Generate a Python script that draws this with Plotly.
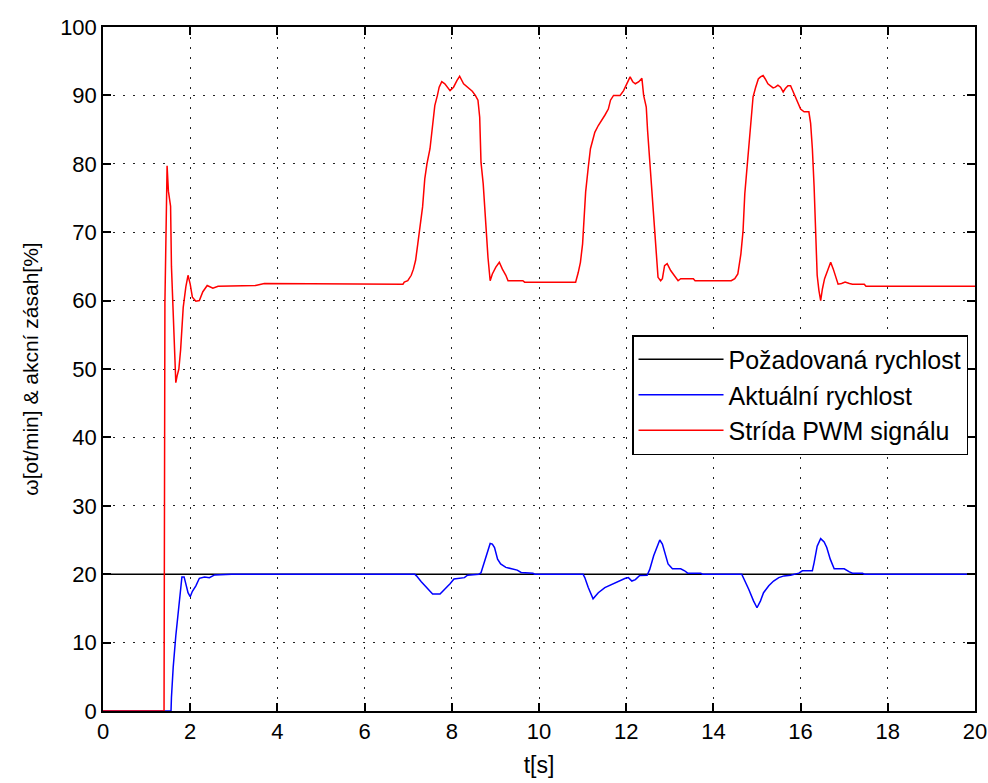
import plotly.graph_objects as go

# Reference speed
t_ref = [0, 20]
v_ref = [20, 20]

# Actual speed
t_act = [0, 1.56, 1.57, 1.61, 1.67, 1.72, 1.77, 1.81, 1.86, 1.90, 1.95, 2.00, 2.05, 2.13, 2.21, 2.33, 2.44, 2.56, 2.95,
         7.15, 7.19, 7.30, 7.42, 7.56, 7.73, 7.84, 7.96, 8.05, 8.16, 8.29, 8.36, 8.62, 8.67, 8.74, 8.81, 8.88, 8.93,
         8.98, 9.05, 9.12, 9.24, 9.40, 9.50, 9.59, 9.86, 9.90,
         11.01, 11.05, 11.13, 11.24, 11.36, 11.51, 11.67, 11.82, 11.98, 12.05, 12.13, 12.21, 12.31, 12.48, 12.54,
         12.63, 12.71, 12.77, 12.83, 12.88, 12.96, 13.06, 13.25, 13.34, 13.41, 13.71, 13.75,
         14.65, 14.69, 14.81, 14.92, 15.00, 15.08, 15.15, 15.27, 15.38, 15.50, 15.62, 15.77, 15.96, 16.04, 16.27,
         16.31, 16.38, 16.46, 16.54, 16.60, 16.68, 16.77, 17.00, 17.12, 17.19, 17.42, 17.46, 20.0]
v_act = [0, 0, 2.0, 6.4, 11.0, 14.0, 18.0, 19.6, 19.6, 18.6, 17.3, 16.7, 17.5, 18.3, 19.4, 19.6, 19.5, 19.9, 20.0,
         20.0, 19.76, 18.9, 18.0, 17.1, 17.1, 17.8, 18.6, 19.3, 19.4, 19.5, 19.85, 20.0, 20.2, 21.7, 22.9, 24.5, 24.4,
         23.9, 22.2, 21.5, 21.0, 20.8, 20.6, 20.25, 20.15, 20.0,
         20.0, 19.5, 18.05, 16.4, 17.3, 18.05, 18.5, 19.0, 19.4, 19.5, 19.0, 19.2, 19.8, 19.85, 20.7,
         22.7, 24.1, 25.0, 24.4, 23.2, 21.5, 20.8, 20.8, 20.5, 20.15, 20.15, 20.0,
         20.0, 19.5, 17.8, 16.1, 15.1, 16.1, 17.3, 18.3, 19.0, 19.5, 19.75, 19.85, 20.15, 20.5, 20.5,
         21.7, 24.1, 25.2, 24.7, 23.9, 22.2, 20.8, 20.8, 20.35, 20.15, 20.15, 20.0, 20.0]

# PWM duty cycle
t_pwm = [0, 1.40, 1.42, 1.47, 1.50, 1.55, 1.57, 1.63, 1.67, 1.70, 1.74, 1.78, 1.84, 1.90, 1.95, 2.00, 2.05, 2.13,
         2.21, 2.29, 2.39, 2.52, 2.64, 3.50, 3.70, 6.88,
         6.91, 6.99, 7.07, 7.12, 7.17, 7.22, 7.28, 7.33, 7.38, 7.43, 7.50, 7.56, 7.61, 7.67, 7.71, 7.77, 7.84, 7.96,
         8.04, 8.12, 8.18, 8.27, 8.39, 8.47, 8.54, 8.60, 8.64, 8.67, 8.72, 8.78, 8.83, 8.88, 8.93, 9.01, 9.09, 9.16,
         9.24, 9.29, 9.63, 9.67, 10.84,
         10.90, 10.95, 11.00, 11.03, 11.07, 11.13, 11.18, 11.23, 11.28, 11.36, 11.44, 11.51, 11.59, 11.64, 11.71,
         11.86, 11.94, 12.00, 12.09, 12.15, 12.21, 12.29, 12.36, 12.40, 12.46, 12.49, 12.54, 12.59, 12.65, 12.69,
         12.73, 12.79, 12.83, 12.88, 12.94, 13.02, 13.10, 13.19, 13.25, 13.54, 13.58, 14.41,
         14.49, 14.56, 14.63, 14.68, 14.72, 14.78, 14.83, 14.87, 14.91, 14.97, 15.03, 15.08, 15.14, 15.19, 15.25,
         15.31, 15.37, 15.42, 15.48, 15.54, 15.60, 15.65, 15.71, 15.77, 15.83, 15.88, 15.94, 16.00, 16.08, 16.19,
         16.23, 16.27, 16.31, 16.35, 16.38, 16.42, 16.46, 16.50, 16.55, 16.62, 16.69, 16.75, 16.81, 16.86, 16.94,
         17.02, 17.12, 17.19, 17.46, 17.50, 20.0]
v_pwm = [0, 0, 59.6, 79.7, 76.0, 73.8, 65.0, 54.0, 48.0, 49.0, 50.0, 52.8, 59.0, 62.0, 63.7, 62.4, 60.5, 59.9,
         60.0, 61.3, 62.2, 61.8, 62.1, 62.2, 62.5, 62.4,
         62.7, 62.9, 63.7, 64.6, 65.9, 68.3, 71.0, 73.7, 77.8, 80.0, 82.2, 86.1, 88.5, 90.0, 91.2, 92.0, 91.7, 90.7,
         91.2, 92.2, 92.8, 91.7, 91.0, 90.6, 90.0, 89.3, 86.8, 80.2, 77.1, 70.7, 66.3, 62.9, 63.9, 64.9, 65.6, 64.6,
         63.7, 62.9, 62.9, 62.7, 62.7,
         64.1, 65.6, 68.3, 72.2, 75.9, 79.5, 82.2, 83.4, 84.6, 85.6, 86.3, 87.1, 88.0, 89.3, 90.0,
         90.0, 90.7, 91.5, 92.7, 92.0, 91.7, 92.0, 92.5, 90.0, 88.3, 84.9, 80.5, 76.3, 71.2, 66.6,
         63.4, 62.9, 63.2, 65.1, 65.4, 64.4, 63.7, 62.9, 63.2, 63.2, 62.9, 62.9,
         63.2, 63.9, 66.8, 70.2, 75.6, 80.2, 83.7, 87.1, 89.8, 91.2, 92.4, 92.7, 92.9, 92.4, 91.7,
         91.4, 91.1, 91.2, 91.5, 91.2, 90.5, 91.0, 91.4, 91.4, 90.5, 89.8, 88.8, 88.0, 87.6, 87.6,
         85.9, 82.2, 76.6, 68.5, 63.7, 61.5, 60.0, 61.7, 63.2, 64.4, 65.6, 64.6, 63.2, 62.4, 62.5,
         62.7, 62.5, 62.4, 62.4, 62.1, 62.1]

x_ticks = [0, 2, 4, 6, 8, 10, 12, 14, 16, 18, 20]
y_ticks = [0, 10, 20, 30, 40, 50, 60, 70, 80, 90, 100]

fig = go.Figure()
fig.add_trace(go.Scatter(x=t_ref, y=v_ref, mode="lines", name="Požadovaná rychlost",
                         line=dict(color="black", width=1.5)))
fig.add_trace(go.Scatter(x=t_act, y=v_act, mode="lines", name="Aktuální rychlost",
                         line=dict(color="blue", width=1.5)))
fig.add_trace(go.Scatter(x=t_pwm, y=v_pwm, mode="lines", name="Strída PWM signálu",
                         line=dict(color="red", width=1.5)))

font_family = "Liberation Sans, Arial, sans-serif"
axis_common = dict(
    showline=True, linecolor="black", linewidth=1.5, mirror="ticks",
    ticks="inside", ticklen=8, tickcolor="black", tickwidth=1.5,
    showgrid=True, gridcolor="#222222", gridwidth=1.2, griddash="1.5px,8.5px",
    zeroline=False, automargin=False,
    tickfont=dict(size=22, color="black", family=font_family),
)

fig.update_layout(
    width=988, height=783,
    margin=dict(l=103, r=13, t=27, b=72, autoexpand=False),
    paper_bgcolor="white", plot_bgcolor="white",
    font=dict(family=font_family, color="black"),
    xaxis=dict(range=[0, 20], tickvals=x_ticks, ticktext=[str(v) for v in x_ticks],
               title=dict(text="t[s]", font=dict(size=23), standoff=14), **axis_common),
    yaxis=dict(range=[0, 100], tickvals=y_ticks, ticktext=[str(v) for v in y_ticks],
               title=dict(text="ω[ot/min] & akcní zásah[%]", font=dict(size=21), standoff=16), **axis_common),
    legend=dict(x=0.992, y=0.5497, xanchor="right", yanchor="top",
                bgcolor="white", bordercolor="black", borderwidth=1.5,
                font=dict(size=25, color="black", family=font_family),
                tracegroupgap=0, itemwidth=85),
    showlegend=True,
)

fig.write_html("out.html")
